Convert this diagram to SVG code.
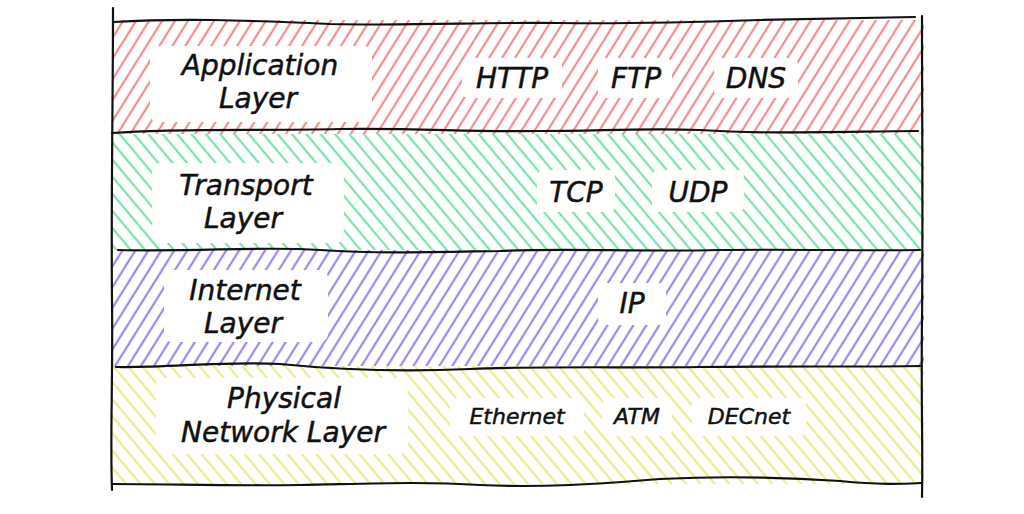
<svg xmlns="http://www.w3.org/2000/svg" width="1024" height="514" viewBox="0 0 1024 514">
<style>
.lbl{font-family:"DejaVu Sans",sans-serif;font-style:italic;font-size:28px;fill:#111;stroke:#111;stroke-width:0.5;text-anchor:middle}
.sm{font-size:22px}
.bd{fill:none;stroke:#111;stroke-width:2.2;stroke-linecap:round;stroke-linejoin:round}
.wb{fill:#fff}
</style>
<defs>
<pattern id="hr" width="11" height="20" patternUnits="userSpaceOnUse" patternTransform="rotate(32)"><line x1="5.5" y1="0" x2="5.5" y2="20" stroke="#ee7474" stroke-width="1.8"/></pattern>
<pattern id="hg" width="11" height="20" patternUnits="userSpaceOnUse" patternTransform="rotate(-40)"><line x1="5.5" y1="0" x2="5.5" y2="20" stroke="#5fdc98" stroke-width="1.8"/></pattern>
<pattern id="hp" width="11" height="20" patternUnits="userSpaceOnUse" patternTransform="rotate(32)"><line x1="5.5" y1="0" x2="5.5" y2="20" stroke="#8a6aea" stroke-width="1.8"/></pattern>
<pattern id="hy" width="11" height="20" patternUnits="userSpaceOnUse" patternTransform="rotate(-40)"><line x1="5.5" y1="0" x2="5.5" y2="20" stroke="#e8e870" stroke-width="1.8"/></pattern>
</defs>
<rect width="1024" height="514" fill="#fff"/>

<g id="application">
<rect x="112" y="20" width="812" height="114" fill="url(#hr)"/>
<rect class="wb" x="150" y="46" width="222" height="76" rx="8"/>
<rect class="wb" x="462" y="58" width="100" height="40" rx="6"/>
<rect class="wb" x="598" y="58" width="74" height="40" rx="6"/>
<rect class="wb" x="714" y="58" width="84" height="40" rx="6"/>
<text class="lbl" x="260" y="75">Application</text>
<text class="lbl" x="258" y="108">Layer</text>
<text class="lbl" x="512" y="88">HTTP</text>
<text class="lbl" x="636" y="88">FTP</text>
<text class="lbl" x="756" y="88">DNS</text>
</g>

<g id="transport">
<rect x="112" y="134" width="812" height="116" fill="url(#hg)"/>
<rect class="wb" x="152" y="163" width="192" height="80" rx="8"/>
<rect class="wb" x="537" y="170" width="78" height="42" rx="6"/>
<rect class="wb" x="652" y="170" width="92" height="42" rx="6"/>
<text class="lbl" x="246" y="195">Transport</text>
<text class="lbl" x="243" y="228">Layer</text>
<text class="lbl" x="576" y="202">TCP</text>
<text class="lbl" x="698" y="202">UDP</text>
</g>

<g id="internet">
<rect x="112" y="250" width="812" height="116" fill="url(#hp)"/>
<rect class="wb" x="164" y="270" width="164" height="72" rx="8"/>
<rect class="wb" x="598" y="283" width="68" height="42" rx="6"/>
<text class="lbl" x="245" y="300">Internet</text>
<text class="lbl" x="243" y="333">Layer</text>
<text class="lbl" x="632" y="313">IP</text>
</g>

<g id="physical">
<rect x="112" y="366" width="812" height="118" fill="url(#hy)"/>
<rect class="wb" x="156" y="378" width="252" height="76" rx="8"/>
<rect class="wb" x="450" y="398" width="134" height="38" rx="6"/>
<rect class="wb" x="602" y="398" width="70" height="38" rx="6"/>
<rect class="wb" x="692" y="398" width="114" height="38" rx="6"/>
<text class="lbl" x="284" y="408">Physical</text>
<text class="lbl" x="283" y="442">Network Layer</text>
<text class="lbl sm" x="517" y="424">Ethernet</text>
<text class="lbl sm" x="637" y="424">ATM</text>
<text class="lbl sm" x="749" y="424">DECnet</text>
</g>

<g id="borders">
<path class="bd" d="M113 8 C113 100 111 200 112 300 C113 380 110 440 112 490"/>
<path class="bd" d="M922 16 C922 120 923 220 922 320 C921 400 923 450 922 497"/>
<path class="bd" d="M113 22 C180 18 240 20 330 24 C420 26 480 22 560 23 C620 24 700 22 760 20 C820 19 880 18 915 17"/>
<path class="bd" d="M112 133 C180 128 260 131 340 129 C420 128 470 132 540 131 C600 131 640 128 700 130 C760 134 820 132 918 131"/>
<path class="bd" d="M118 250 C200 252 260 246 320 250 C380 254 440 252 500 251 C560 248 640 252 720 250 C800 249 860 251 920 250"/>
<path class="bd" d="M116 367 C170 368 220 361 280 364 C340 370 400 372 470 369 C540 366 620 368 700 367 C780 366 860 367 922 366"/>
<path class="bd" d="M112 484 C170 484 230 486 300 485 C360 484 420 481 480 485 C540 488 600 484 660 479 C720 476 780 477 840 481 C880 485 900 484 921 483"/>
</g>
</svg>
